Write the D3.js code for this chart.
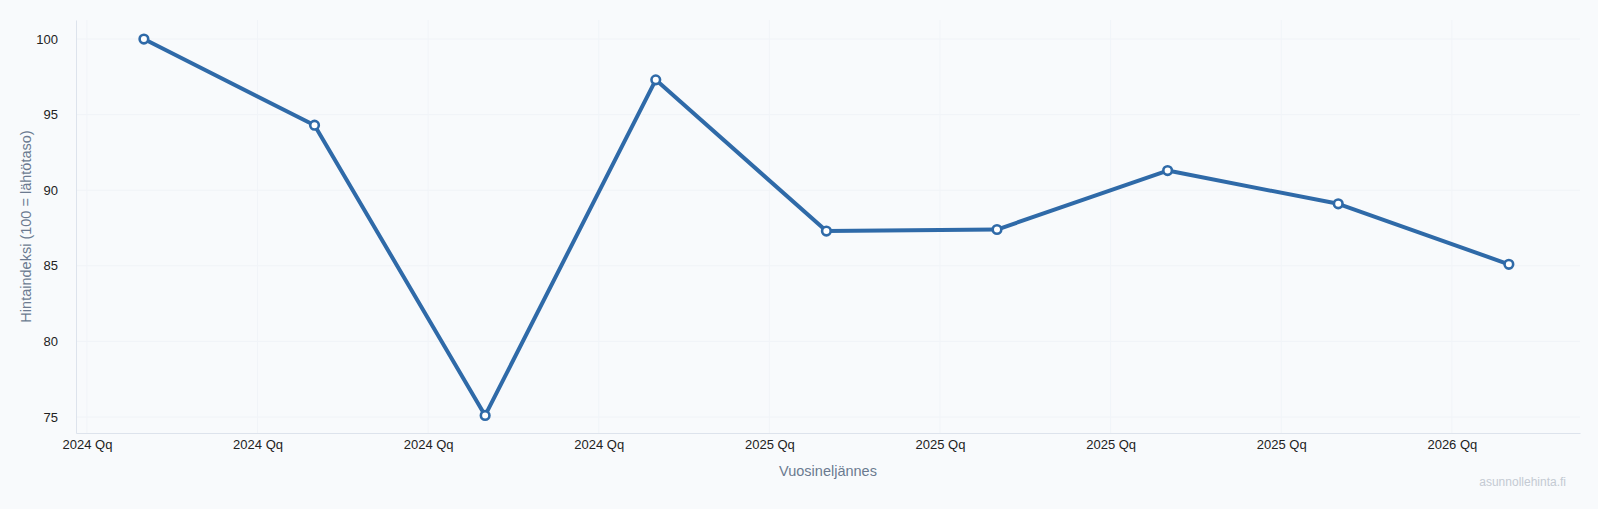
<!DOCTYPE html>
<html>
<head>
<meta charset="utf-8">
<script src="https://cdn.jsdelivr.net/npm/d3@7"></script>
<style>
  body { margin: 0; background: #f8fafc; font-family: "Liberation Sans", Arial, sans-serif; }
</style>
</head>
<body>
<svg id="chart" width="1598" height="509"></svg>
<script>
// tick labels along the x axis (quarter starts)
let tickLabels = ["2024 Qq", "2024 Qq", "2024 Qq", "2024 Qq", "2025 Qq", "2025 Qq", "2025 Qq", "2025 Qq", "2026 Qq"];
// index values per quarter
let values = [100, 94.3, 75.1, 97.3, 87.3, 87.4, 91.3, 89.1, 85.1];
let yTicks = [75, 80, 85, 90, 95, 100];

let margin = {left: 76, right: 18, top: 20, bottom: 76};
let width = 1598, height = 509;
let svg = d3.select("#chart");

let x = d3.scaleLinear().domain([-0.064, 8.751]).range([margin.left, width - margin.right]);
let y = d3.scaleLinear().domain([73.94, 101.26]).range([height - margin.bottom, margin.top]);

// grid
svg.append("g").selectAll("line").data(yTicks).join("line")
    .attr("x1", margin.left).attr("x2", width - margin.right)
    .attr("y1", d => y(d)).attr("y2", d => y(d))
    .attr("stroke", "#f0f3f7").attr("stroke-width", 1);
svg.append("g").selectAll("line").data(d3.range(tickLabels.length)).join("line")
    .attr("x1", d => x(d)).attr("x2", d => x(d))
    .attr("y1", margin.top).attr("y2", height - margin.bottom)
    .attr("stroke", "#f1f4f8").attr("stroke-width", 1);

// axes
let xAxis = svg.append("g")
    .attr("transform", `translate(0,${height - margin.bottom})`)
    .call(d3.axisBottom(x).tickValues(d3.range(tickLabels.length))
        .tickFormat(i => tickLabels[i]).tickSize(0).tickPadding(7));
let yAxis = svg.append("g")
    .attr("transform", `translate(${margin.left},0)`)
    .call(d3.axisLeft(y).tickValues(yTicks).tickSize(0).tickPadding(18));
[xAxis, yAxis].forEach(a => {
    a.select(".domain").attr("stroke", "#dde3ec");
    a.selectAll("text").attr("fill", "#222").style("font-size", "13px")
        .style("font-family", "'Liberation Sans', Arial, sans-serif");
});

// titles
svg.append("text")
    .attr("x", (margin.left + width - margin.right) / 2).attr("y", 476)
    .attr("text-anchor", "middle").attr("fill", "#6b7a90").style("font-size", "14.5px")
    .text("Vuosineljännes");
svg.append("text")
    .attr("transform", `translate(31,${(margin.top + height - margin.bottom) / 2}) rotate(-90)`)
    .attr("text-anchor", "middle").attr("fill", "#6b7a90").style("font-size", "14.5px")
    .text("Hintaindeksi (100 = lähtötaso)");

// line + markers
let pts = values.map((v, i) => [i + 0.334, v]);
svg.append("path").datum(pts)
    .attr("fill", "none").attr("stroke", "#2f6aa8").attr("stroke-width", 4)
    .attr("stroke-linejoin", "round")
    .attr("d", d3.line().x(d => x(d[0])).y(d => y(d[1])));
svg.append("g").selectAll("circle").data(pts).join("circle")
    .attr("cx", d => x(d[0])).attr("cy", d => y(d[1])).attr("r", 4.3)
    .attr("fill", "#fff").attr("stroke", "#2f6aa8").attr("stroke-width", 2.6);

// watermark
svg.append("text").attr("x", 1566).attr("y", 486).attr("text-anchor", "end")
    .attr("fill", "#c4cad3").style("font-size", "12px").text("asunnollehinta.fi");
</script>
</body>
</html>
